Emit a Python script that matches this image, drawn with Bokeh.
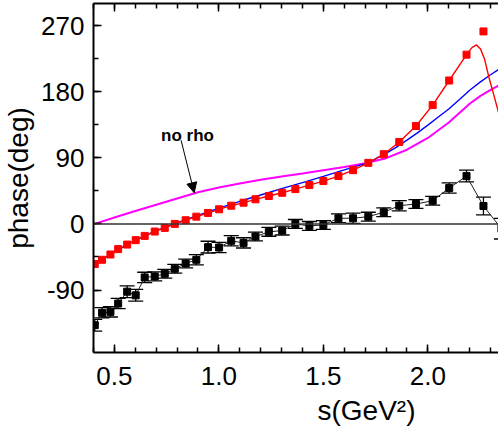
from bokeh.plotting import figure
from bokeh.models import (Range1d, FixedTicker, LinearAxis, Span, Whisker, TeeHead,
                          ColumnDataSource, Arrow, NormalHead, Label, Title)
from bokeh.embed import file_html
from bokeh.resources import INLINE
import numpy as np

# ---- data ----
s_pts = [0.406, 0.441, 0.481, 0.518, 0.561, 0.602, 0.645, 0.693, 0.741, 0.789,
         0.841, 0.892, 0.948, 1.001, 1.059, 1.118, 1.175, 1.239, 1.303, 1.366,
         1.433, 1.500, 1.572, 1.642, 1.715, 1.789, 1.863, 1.943, 2.023, 2.102,
         2.185, 2.266, 2.352]
red_phase = [-54.6, -48.8, -41.6, -34.3, -28.1, -22.1, -16.3, -10.4, -5.4, 0.0,
             5.0, 9.9, 14.9, 19.9, 24.8, 28.9, 33.5, 38.0, 42.4, 47.4,
             52.9, 58.3, 65.1, 73.2, 83.1, 94.9, 111.5, 133.2, 161.7, 195.2,
             230.4, 262.0]
black_phase = [-137.8, -121.0, -119.7, -108.4, -92.2, -97.2, -72.8, -71.4, -67.8, -61.0,
               -53.8, -48.8, -31.6, -32.1, -23.0, -25.8, -17.2, -10.8, -9.1, 0.0,
               -2.7, -1.4, 7.7, 7.7, 9.9, 15.9, 24.8, 27.1, 31.6, 48.8,
               65.1, 24.4, -6.5]
black_err = [8, 7, 7, 7, 8, 8, 7, 6, 6, 6, 6, 7, 8, 7, 7, 7, 6, 6, 6, 6,
             6, 6, 6, 7, 6, 6, 7, 6, 6, 7, 8, 12, 14]

red_curve_s = [0.406, 0.441, 0.481, 0.518, 0.561, 0.602, 0.645, 0.693, 0.741, 0.789,
               0.841, 0.892, 0.948, 1.001, 1.059, 1.118, 1.175, 1.239, 1.303, 1.366,
               1.433, 1.500, 1.572, 1.642, 1.715, 1.789, 1.863, 1.943, 2.023, 2.102,
               2.185, 2.212, 2.233, 2.252, 2.271, 2.292, 2.316, 2.338]
red_curve_phase = [-54.6, -48.8, -41.6, -34.3, -28.1, -22.1, -16.3, -10.4, -5.4, 0.0,
                   5.0, 9.9, 14.9, 19.9, 24.8, 28.9, 33.5, 38.0, 42.4, 47.4,
                   52.9, 58.3, 65.1, 73.2, 83.1, 94.9, 111.5, 133.2, 161.7, 195.2,
                   230.4, 240.3, 243.6, 238.0, 224.6, 199.7, 174.9, 152.0]

blue_s = [0.406, 0.5, 0.6, 0.7, 0.8, 0.9, 1.0, 1.1, 1.2, 1.3, 1.4, 1.5, 1.6, 1.7,
          1.75, 1.8, 1.85, 1.9, 1.95, 2.0, 2.05, 2.1, 2.15, 2.2, 2.25, 2.3, 2.338]
blue_phase = [-54.5, -38.2, -22.3, -9.2, 1.6, 11.6, 21.6, 30.8, 39.4, 48.0, 56.2, 64.8,
              73.5, 82.0, 88.5, 96.0, 104.5, 114.0, 124.0, 134.5, 145.5, 156.5, 169.0,
              182.0, 193.0, 203.0, 210.0]

mag_s = [0.406, 0.5, 0.6, 0.7, 0.8, 0.9, 1.0, 1.1, 1.2, 1.3, 1.4, 1.5, 1.6, 1.7,
         1.8, 1.9, 2.0, 2.1, 2.2, 2.25, 2.3, 2.338]
mag_phase = [0.0, 8.8, 17.5, 26.0, 34.5, 43.0, 49.5, 55.0, 60.0, 64.5, 68.5, 73.0,
             77.5, 82.5, 89.5, 101.0, 117.0, 138.0, 163.5, 174.0, 182.5, 188.4]

x_ticks = [0.5, 1.0, 1.5, 2.0]
x_tick_labels = ["0.5", "1.0", "1.5", "2.0"]
y_ticks = [-90, 0, 90, 180, 270]
y_tick_labels = ["-90", "0", "90", "180", "270"]

annot_text = "no rho"
x_label = "s(GeV\u00b2)"
y_label = "phase(deg)"

FONT = "Liberation Sans"

p = figure(width=498, height=431, x_range=Range1d(0.4, 2.338), y_range=Range1d(-175, 300),
           output_backend="svg", toolbar_location=None,
           min_border_left=93, min_border_right=0, min_border_top=3, min_border_bottom=79,
           x_axis_location=None, y_axis_location=None)
p.outline_line_color = None
p.xgrid.visible = False
p.ygrid.visible = False

x_minor = [round(v, 2) for v in np.arange(0.4, 2.35, 0.1)]
y_minor = list(range(-135, 300, 45))

def style_axis(ax):
    ax.axis_line_width = 2
    ax.major_tick_in = 8
    ax.major_tick_out = 0
    ax.minor_tick_in = 5
    ax.minor_tick_out = 0
    ax.major_tick_line_width = 1.5
    ax.minor_tick_line_width = 1.5
    ax.major_label_text_font = FONT
    ax.major_label_text_font_size = "26px"
    ax.major_label_text_color = "black"
    ax.axis_label_text_font = FONT
    ax.axis_label_text_font_size = "28px"
    ax.axis_label_text_font_style = "normal"
    ax.axis_label_text_color = "black"

xb = LinearAxis(ticker=FixedTicker(ticks=x_ticks, minor_ticks=x_minor),
                major_label_overrides={t: l for t, l in zip(x_ticks, x_tick_labels)})
style_axis(xb)
xb.major_label_standoff = 14
p.add_layout(xb, "below")

p.add_layout(Title(text=x_label, align="left", offset=224, standoff=10,
                   text_font=FONT, text_font_size="28px", text_font_style="normal",
                   text_color="black"), "below")

xt = LinearAxis(ticker=FixedTicker(ticks=x_ticks, minor_ticks=x_minor),
                major_label_overrides={t: "" for t in x_ticks})
style_axis(xt)
xt.major_label_text_font_size = "1px"
xt.major_label_standoff = 0
p.add_layout(xt, "above")

yl = LinearAxis(ticker=FixedTicker(ticks=y_ticks, minor_ticks=y_minor),
                major_label_overrides={t: l for t, l in zip(y_ticks, y_tick_labels)},
                axis_label=y_label)
style_axis(yl)
yl.major_label_standoff = 9
yl.axis_label_standoff = 4
p.add_layout(yl, "left")

p.add_layout(Span(location=0, dimension="width", line_color="#333333", line_width=1.5))

p.line(mag_s, mag_phase, line_color="#ff00ff", line_width=2)
p.line(blue_s, blue_phase, line_color="#0000ff", line_width=1.4)
p.line(red_curve_s, red_curve_phase, line_color="#ff0000", line_width=1.4)
p.scatter(s_pts[:len(red_phase)], red_phase, marker="square", size=7,
          fill_color="#ff0000", line_color="#ff0000")

src = ColumnDataSource(dict(s=s_pts, ph=black_phase,
                            lo=[v - e for v, e in zip(black_phase, black_err)],
                            hi=[v + e for v, e in zip(black_phase, black_err)]))
p.line("s", "ph", source=src, line_color="#222222", line_width=1)
p.add_layout(Whisker(source=src, base="s", lower="lo", upper="hi", dimension="height",
                     line_color="black", line_width=1.3,
                     lower_head=TeeHead(size=15, line_color="black", line_width=1.3),
                     upper_head=TeeHead(size=15, line_color="black", line_width=1.3)))
p.scatter("s", "ph", source=src, marker="square", size=7,
          fill_color="black", line_color="black")

p.add_layout(Arrow(end=NormalHead(size=10, fill_color="black", line_color="black"),
                   x_start=0.819, y_start=113.9, x_end=0.882, y_end=42.5,
                   line_color="black", line_width=1))
p.add_layout(Label(x=0.85, y=120.6, text=annot_text, text_align="center",
                   text_baseline="alphabetic", text_font=FONT, text_font_size="17px",
                   text_font_style="bold", text_color="black"))

open("out.html", "w").write(file_html(p, INLINE))
